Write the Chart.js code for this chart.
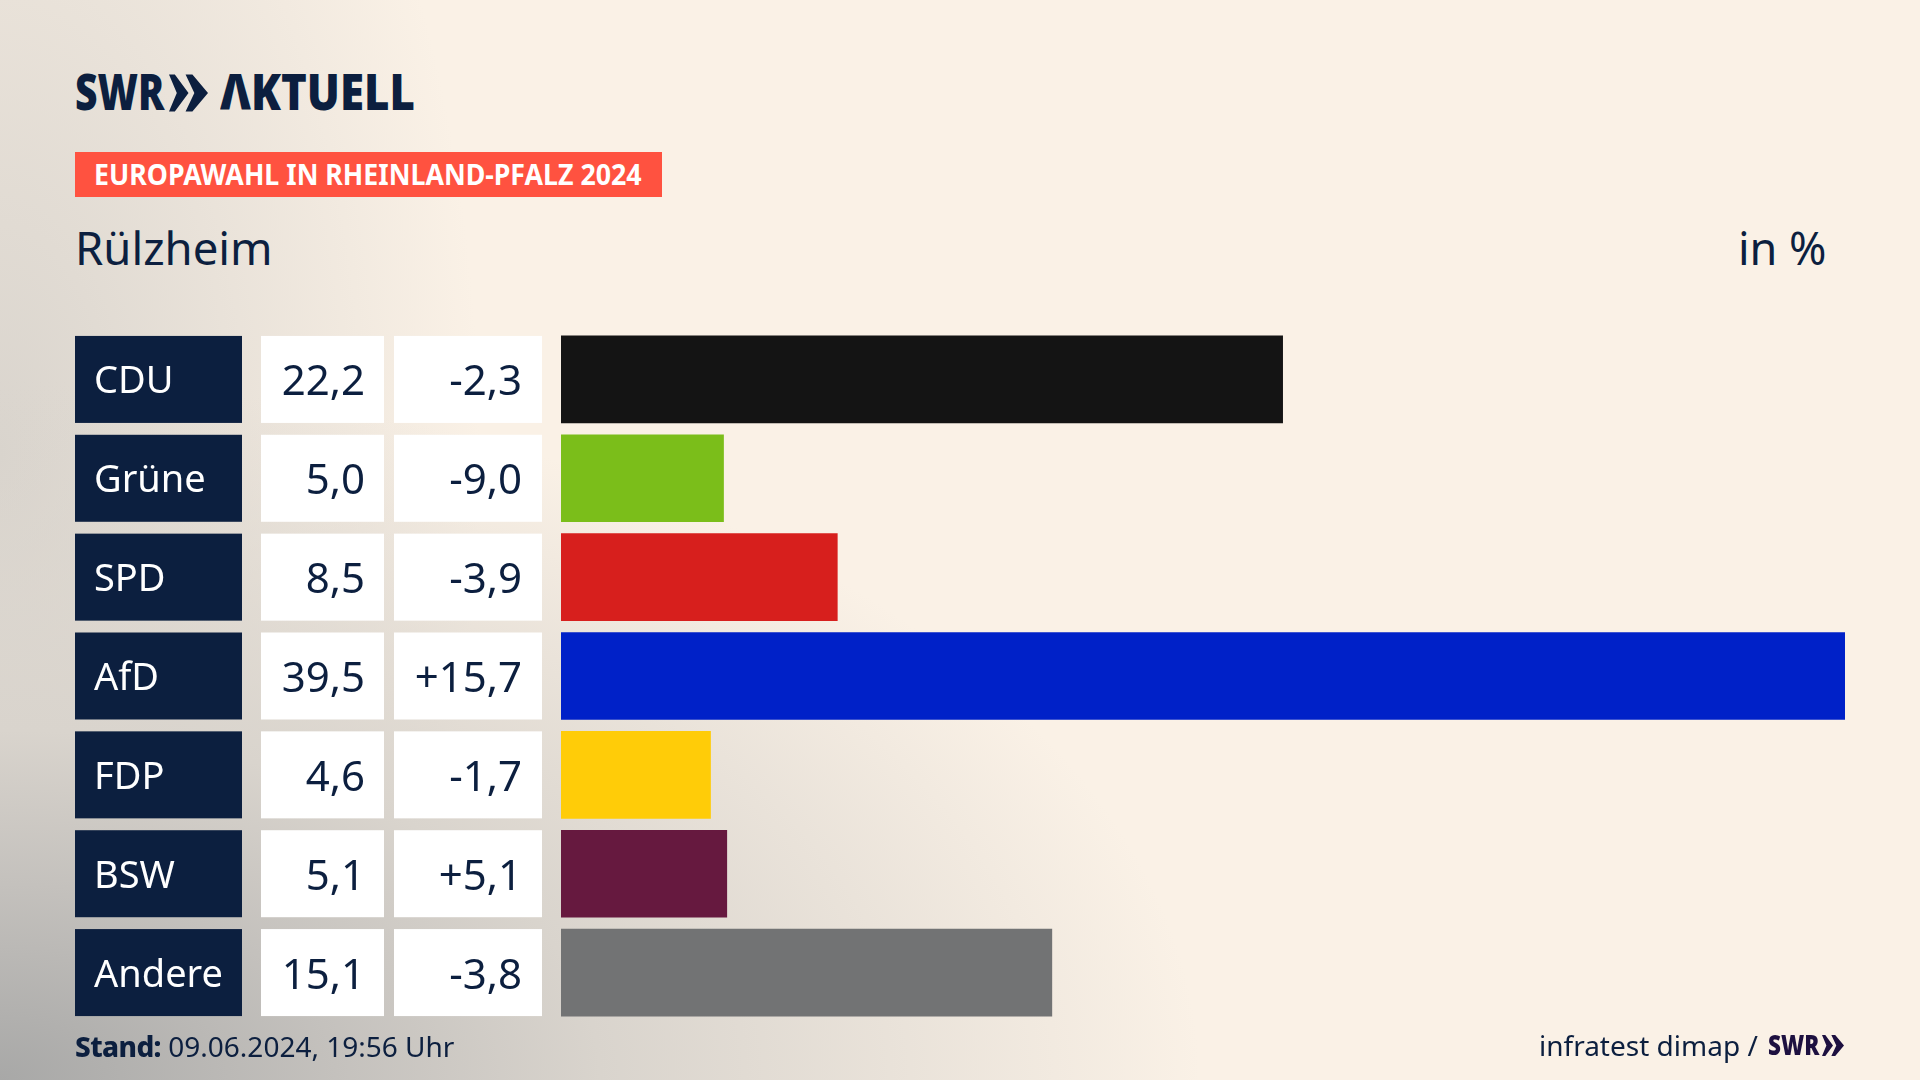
<!DOCTYPE html>
<html>
<head>
<meta charset="utf-8">
<title>Europawahl in Rheinland-Pfalz 2024 - Rülzheim</title>
<script src="https://cdn.jsdelivr.net/npm/chart.js@4"></script>
<style>
html, body { margin: 0; padding: 0; }
body {
  width: 1920px; height: 1080px; overflow: hidden; position: relative;
  font-family: "Noto Sans", sans-serif; color: #0c1f3f;
  background:
    radial-gradient(ellipse 1200px 700px at 0% 100%, #a8a8a7 0%, #c4c1bd 28%, #d9d4cd 50%, rgba(250,241,230,0) 100%),
    radial-gradient(ellipse 480px 950px at 0% 42%, #d9d4cd 0%, rgba(250,241,230,0) 100%),
    #faf1e6;
}
canvas { position: absolute; left: 0; top: 0; }
.t { position: absolute; white-space: nowrap; transform-origin: 0 0; line-height: 1; }
.logo { font-weight: 900; font-size: 50px; top: 66px; }
.tag { position: absolute; left: 75px; top: 152px; width: 587px; height: 45px; background: #ff5240; }
svg { position: absolute; }
</style>
</head>
<body>
<div class="t logo" style="left:75px;transform:scaleX(.78)">SWR</div>
<svg style="left:169px;top:74px" width="39" height="38" viewBox="0 0 40 38"><path fill="#0c1f3f" d="M0 0 L6 0 L20 19 L6 38 L0 38 L8 19 Z M17 0 L24 0 L40 19 L24 38 L17 38 L26 19 Z"/></svg>
<div class="t logo" style="left:220px;transform:scaleX(.875)">ΛKTUELL</div>
<div class="tag"></div>
<div class="t" style="left:94px;top:160px;font-size:28px;font-weight:700;color:#fff;transform:scaleX(.955)">EUROPAWAHL IN RHEINLAND-PFALZ 2024</div>
<div class="t" style="left:75px;top:225px;font-size:45.5px">Rülzheim</div>
<div class="t" style="left:1738px;top:225px;font-size:45px">in %</div>
<canvas id="chart" width="1920" height="1080"></canvas>
<div class="t" style="left:75px;top:1032px;font-size:28px"><b style="font-weight:800;letter-spacing:-.6px">Stand:</b> 09.06.2024, 19:56 Uhr</div>
<div class="t" style="left:1539px;top:1031px;font-size:28px">infratest dimap /</div>
<div class="t" style="left:1768px;top:1030px;font-size:28px;font-weight:900;color:#1d1040;transform:scaleX(.8)">SWR</div>
<svg style="left:1822px;top:1035px" width="22" height="21" viewBox="0 0 40 38"><path fill="#1d1040" d="M0 0 L6 0 L20 19 L6 38 L0 38 L8 19 Z M17 0 L24 0 L40 19 L24 38 L17 38 L26 19 Z"/></svg>

<script>
var parties = ["CDU", "Grüne", "SPD", "AfD", "FDP", "BSW", "Andere"];
var shares = [22.2, 5.0, 8.5, 39.5, 4.6, 5.1, 15.1];
var changes = [-2.3, -9.0, -3.9, 15.7, -1.7, 5.1, -3.8];
var barColors = ["#141414", "#7bbe1a", "#d71f1d", "#0021c8", "#ffcc08", "#66193f", "#727374"];

function fmt(v) { return v.toFixed(1).replace(".", ","); }
function fmtChange(v) { return (v > 0 ? "+" : "") + fmt(v); }

// the label and number cells left of the bars, lined up on the y scale
var tableCells = {
  id: "tableCells",
  beforeDatasetsDraw: function(chart) {
    var ctx = chart.ctx, y = chart.scales.y;
    ctx.save();
    parties.forEach(function(p, i) {
      var c = y.getPixelForValue(i), top = c - 43.5;
      ctx.fillStyle = "#0c1f3f";
      ctx.fillRect(75, top, 167, 87);
      ctx.fillStyle = "#fff";
      ctx.fillRect(261, top, 123, 87);
      ctx.fillRect(394, top, 148, 87);
      ctx.textBaseline = "alphabetic";
      ctx.textAlign = "left";
      ctx.font = '38px "Noto Sans"';
      ctx.fillText(p, 94, c + 14);
      ctx.fillStyle = "#0c1f3f";
      ctx.textAlign = "right";
      ctx.font = '42px "Noto Sans"';
      ctx.fillText(fmt(shares[i]), 365, c + 16);
      ctx.fillText(fmtChange(changes[i]), 522, c + 16);
    });
    ctx.restore();
  }
};

new Chart(document.getElementById("chart"), {
  type: "bar",
  data: {
    labels: parties,
    datasets: [{ data: shares, backgroundColor: barColors, barThickness: 87 }]
  },
  options: {
    indexAxis: "y",
    responsive: false,
    devicePixelRatio: 1,
    animation: false,
    layout: { padding: { left: 561, right: 75, top: 330, bottom: 58 } },
    plugins: { legend: { display: false }, tooltip: { enabled: false } },
    scales: {
      x: { display: false, min: 0, max: 39.5 },
      y: { display: false }
    }
  },
  plugins: [tableCells]
});
</script>
</body>
</html>
